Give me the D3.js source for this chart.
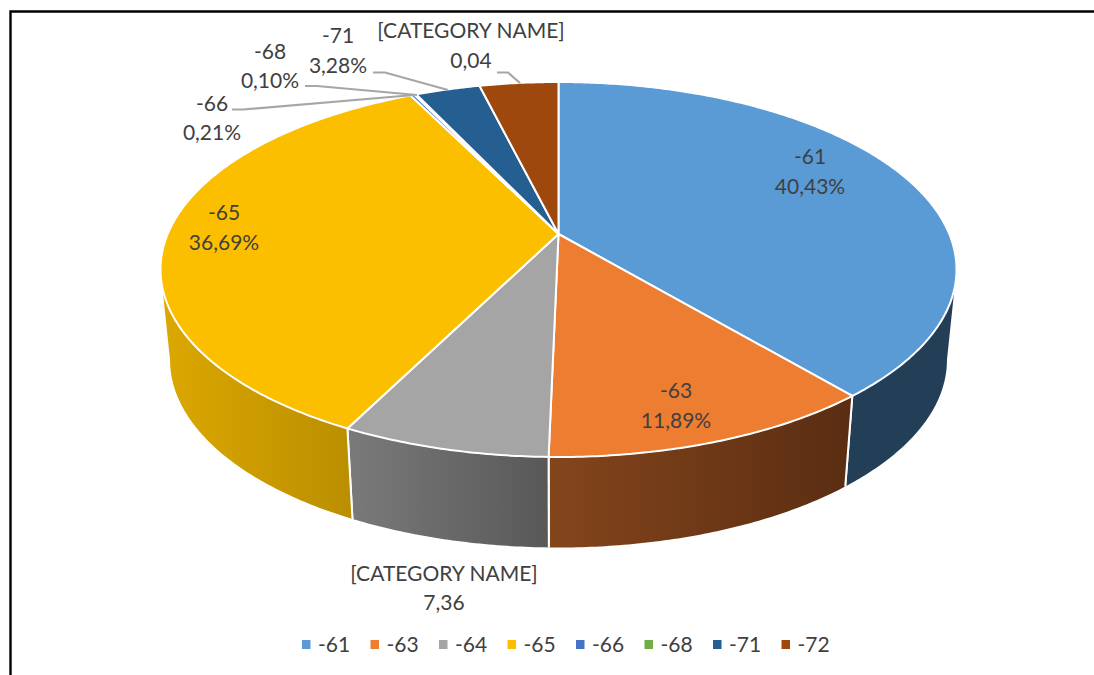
<!DOCTYPE html>
<html><head><meta charset="utf-8">
<script src="https://cdn.jsdelivr.net/npm/d3@7"></script>
<style>html,body{margin:0;background:#fff}svg{display:block}text{font-family:Lato,"Noto Sans",sans-serif;fill:#404040}</style>
</head><body><svg id="c" width="1094" height="675"></svg>
<script>
const categories = ["-61","-63","-64","-65","-66","-68","-71","-72"];
const values = [40.43,11.89,7.36,36.69,0.21,0.10,3.28,4.00];
const valueLabels = ["40,43%","11,89%","7,36","36,69%","0,21%","0,10%","3,28%","0,04"];
const nameLabels = ["-61","-63","[CATEGORY NAME]","-65","-66","-68","-71","[CATEGORY NAME]"];
const topColors = ["#5B9BD5","#ED7D31","#A5A5A5","#FCBF00","#4472C4","#70AD47","#255E91","#9E480E"];
const sideFrom = ["#233F58","#84451C","#7A7A7A","#DCA800","#294575","#436828","#163855","#5F2B08"];
const sideTo = ["#233F58","#5A2D12","#585858","#BA8E00","#294575","#436828","#163855","#5F2B08"];

const svg = d3.select("#c");
const cx=558.5, apexY=234, topY=82, botY=457, rxMax=398, depth=90.5, lowScale=0.976;
const k=(2*apexY-topY-botY)/(botY-topY);
const b=apexY-topY*(1-k);
const a=rxMax*Math.sqrt(1-k*k);
function rim(t){const u=Math.sin(t),w=-Math.cos(t),d=1+k*w;return [cx+a*u/d,(apexY+b*w)/d];}
function low(p){return [cx+lowScale*(p[0]-cx),p[1]+depth];}
const tanA=Math.acos(k), tanB=2*Math.PI-tanA;
const line=d3.line();
function arcPts(t0,t1){const n=Math.max(2,Math.ceil((t1-t0)/0.01));return d3.range(n+1).map(i=>rim(t0+(t1-t0)*i/n));}

const arcs=d3.pie().sort(null).value(d=>d)(values);
const defs=svg.append("defs");
categories.forEach((c,i)=>{
  const g=defs.append("linearGradient").attr("id","g"+i);
  g.append("stop").attr("offset",0).attr("stop-color",sideFrom[i]);
  g.append("stop").attr("offset",1).attr("stop-color",sideTo[i]);
});

// frame (top and left edges only reach the picture)
svg.append("path").attr("d","M10.5,680V11.5H1100").attr("fill","none").attr("stroke","#000").attr("stroke-width",2.4);

// sides
const sideG=svg.append("g");
arcs.forEach((d,i)=>{
  const t0=Math.max(d.startAngle,tanA), t1=Math.min(d.endAngle,tanB);
  if(t1<=t0) return;
  const up=arcPts(t0,t1);
  const pts=up.concat(up.slice().reverse().map(low));
  sideG.append("path").attr("d",line(pts)+"Z").attr("fill",`url(#g${i})`);
  [d.startAngle,d.endAngle].forEach(t=>{
    if(t>tanA && t<tanB){const p=rim(t);sideG.append("line").attr("x1",p[0]).attr("y1",p[1]).attr("x2",low(p)[0]).attr("y2",low(p)[1]).attr("stroke","#fff").attr("stroke-width",2);}
  });
});

// top faces
svg.append("g").selectAll("path").data(arcs).join("path")
  .attr("d",d=>line([[cx,apexY],...arcPts(d.startAngle,d.endAngle)])+"Z")
  .attr("fill",(d,i)=>topColors[i]).attr("stroke","#fff").attr("stroke-width",2).attr("stroke-linejoin","round");

// leader lines
const leaderLayout=[
  {i:4,pts:[[232,109.5],[243,109.5],[414,95]]},
  {i:5,pts:[[305,86],[317,86],[417,95]]},
  {i:6,pts:[[373,72.5],[385,72.5],[448,90]]},
  {i:7,pts:[[497,72.5],[508,72.5],[520,83]]}];
svg.append("g").selectAll("path").data(leaderLayout).join("path")
  .attr("d",d=>line(d.pts)).attr("fill","none").attr("stroke","#A6A6A6").attr("stroke-width",2.2);

// data labels: [centre x, name baseline, value baseline]
const labelLayout=[[810,164,194],[676,398,428],[444,581,610],[224,220,250],[212,111,140],[270,59,88],[338,43,73],[471,38,68]];
const lab=svg.append("g").attr("font-size",21).attr("text-anchor","middle");
categories.forEach((c,i)=>{
  const [x,y1,y2]=labelLayout[i];
  lab.append("text").attr("x",x).attr("y",y1).text(nameLabels[i]);
  lab.append("text").attr("x",x).attr("y",y2).text(valueLabels[i]);
});

// legend
const legX=d3.scalePoint().domain(categories).range([302,781.5]);
const leg=svg.append("g").selectAll("g").data(categories).join("g").attr("transform",d=>`translate(${legX(d)},640)`);
leg.append("rect").attr("width",8.5).attr("height",9).attr("fill",(d,i)=>topColors[i]);
leg.append("text").attr("x",16).attr("y",12).attr("font-size",21).text(d=>d);
</script></body></html>
